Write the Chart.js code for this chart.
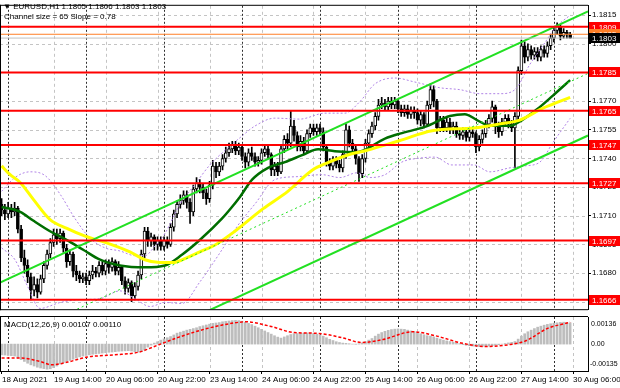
<!DOCTYPE html>
<html><head><meta charset="utf-8">
<script src="https://cdn.jsdelivr.net/npm/chart.js@4.4.1/dist/chart.umd.min.js"></script>
<style>
html,body{margin:0;padding:0;background:#fff;width:620px;height:388px;overflow:hidden}
canvas{display:block;position:absolute;left:0}
#c1{top:0}#c2{top:315px}
</style></head><body>
<canvas id="c1" width="620" height="315"></canvas>
<canvas id="c2" width="620" height="73"></canvas>
<script>
const symbolTitle = '\u25BC EURUSD,H1 1.1805 1.1806 1.1803 1.1803';
const channelTitle = 'Channel size = 65 Slope = 0.78';
const macdTitle = 'MACD(12,26,9) 0.00107 0.00110';

const opens = [1.1716,1.1713,1.1711,1.1714,1.1712,1.1714,1.1703,1.1688,
1.1684,1.1678,1.1671,1.1674,1.1670,1.1677,1.1684,1.1690,
1.1696,1.1700,1.1698,1.1701,1.1693,1.1686,1.1690,1.1681,
1.1679,1.1677,1.1678,1.1676,1.1679,1.1681,1.1680,1.1684,
1.1681,1.1685,1.1683,1.1686,1.1681,1.1683,1.1676,1.1672,
1.1675,1.1668,1.1673,1.1679,1.1690,1.1702,1.1697,1.1699,
1.1695,1.1697,1.1694,1.1697,1.1695,1.1704,1.1711,1.1716,
1.1718,1.1721,1.1717,1.1712,1.1724,1.1727,1.1725,1.1722,
1.1719,1.1726,1.1736,1.1733,1.1736,1.1740,1.1743,1.1745,
1.1747,1.1744,1.1746,1.1741,1.1738,1.1743,1.1741,1.1738,
1.1739,1.1743,1.1745,1.1742,1.1734,1.1736,1.1733,1.1745,
1.1750,1.1748,1.1757,1.1752,1.1746,1.1749,1.1744,1.1753,
1.1756,1.1754,1.1756,1.1754,1.1746,1.1738,1.1736,1.1739,
1.1737,1.1735,1.1742,1.1755,1.1748,1.1745,1.1740,1.1732,
1.1740,1.1748,1.1753,1.1757,1.1762,1.1768,1.1769,1.1767,
1.1770,1.1768,1.1770,1.1766,1.1764,1.1766,1.1763,1.1765,
1.1764,1.1760,1.1763,1.1758,1.1768,1.1776,1.1770,1.1756,
1.1760,1.1756,1.1759,1.1755,1.1757,1.1753,1.1752,1.1754,
1.1751,1.1754,1.1753,1.1746,1.1750,1.1753,1.1758,1.1761,
1.1767,1.1757,1.1754,1.1759,1.1761,1.1758,1.1756,1.1762,
1.1786,1.1799,1.1793,1.1797,1.1794,1.1796,1.1793,1.1797,
1.1795,1.1799,1.1803,1.1807,1.1809,1.1804,1.1806,1.1805];

const highs = [1.1719,1.1716,1.1717,1.1716,1.1717,1.1715,1.1705,1.1692,
1.1687,1.1680,1.1678,1.1677,1.1679,1.1686,1.1692,1.1698,
1.1703,1.1703,1.1703,1.1702,1.1695,1.1692,1.1691,1.1684,
1.1681,1.1680,1.1680,1.1681,1.1684,1.1683,1.1686,1.1686,
1.1687,1.1687,1.1688,1.1687,1.1686,1.1684,1.1678,1.1677,
1.1676,1.1675,1.1681,1.1692,1.1704,1.1704,1.1701,1.1700,
1.1699,1.1699,1.1699,1.1699,1.1706,1.1713,1.1718,1.1721,
1.1723,1.1723,1.1719,1.1726,1.1730,1.1729,1.1727,1.1724,
1.1728,1.1739,1.1738,1.1738,1.1742,1.1746,1.1748,1.1749,
1.1749,1.1748,1.1747,1.1743,1.1745,1.1746,1.1743,1.1741,
1.1745,1.1747,1.1747,1.1743,1.1738,1.1738,1.1747,1.1752,
1.1753,1.1765,1.1760,1.1754,1.1752,1.1751,1.1755,1.1758,
1.1758,1.1758,1.1758,1.1756,1.1747,1.1740,1.1741,1.1741,
1.1739,1.1744,1.1758,1.1757,1.1750,1.1747,1.1741,1.1742,
1.1750,1.1755,1.1759,1.1764,1.1771,1.1772,1.1771,1.1772,
1.1772,1.1772,1.1771,1.1768,1.1768,1.1768,1.1767,1.1767,
1.1766,1.1765,1.1764,1.1770,1.1779,1.1778,1.1771,1.1762,
1.1762,1.1761,1.1761,1.1759,1.1759,1.1755,1.1756,1.1756,
1.1756,1.1756,1.1754,1.1752,1.1755,1.1760,1.1763,1.1770,
1.1768,1.1759,1.1761,1.1763,1.1763,1.1760,1.1764,1.1788,
1.1802,1.1801,1.1800,1.1799,1.1798,1.1798,1.1799,1.1799,
1.1801,1.1805,1.1809,1.1811,1.1810,1.1808,1.1807,1.1806];

const lows = [1.1710,1.1708,1.1709,1.1709,1.1710,1.1701,1.1686,1.1680,
1.1675,1.1666,1.1668,1.1667,1.1669,1.1675,1.1682,1.1688,
1.1694,1.1695,1.1696,1.1691,1.1683,1.1684,1.1678,1.1676,
1.1675,1.1675,1.1674,1.1674,1.1677,1.1678,1.1678,1.1679,
1.1679,1.1680,1.1681,1.1679,1.1679,1.1674,1.1669,1.1670,
1.1665,1.1666,1.1671,1.1677,1.1688,1.1694,1.1694,1.1692,
1.1692,1.1692,1.1692,1.1693,1.1694,1.1702,1.1709,1.1714,
1.1716,1.1714,1.1706,1.1710,1.1722,1.1722,1.1719,1.1716,
1.1717,1.1724,1.1730,1.1731,1.1734,1.1738,1.1741,1.1743,
1.1742,1.1742,1.1739,1.1735,1.1736,1.1739,1.1736,1.1736,
1.1737,1.1741,1.1740,1.1731,1.1731,1.1731,1.1732,1.1743,
1.1745,1.1746,1.1749,1.1744,1.1744,1.1742,1.1743,1.1751,
1.1752,1.1752,1.1752,1.1744,1.1736,1.1734,1.1734,1.1735,
1.1733,1.1733,1.1740,1.1746,1.1742,1.1737,1.1728,1.1730,
1.1738,1.1746,1.1751,1.1755,1.1760,1.1766,1.1765,1.1765,
1.1766,1.1766,1.1764,1.1762,1.1762,1.1761,1.1761,1.1761,
1.1758,1.1757,1.1756,1.1757,1.1766,1.1767,1.1753,1.1754,
1.1754,1.1754,1.1753,1.1753,1.1751,1.1750,1.1750,1.1749,
1.1749,1.1751,1.1743,1.1744,1.1748,1.1751,1.1756,1.1759,
1.1753,1.1751,1.1752,1.1757,1.1756,1.1754,1.1735,1.1760,
1.1784,1.1790,1.1791,1.1792,1.1792,1.1791,1.1791,1.1793,
1.1793,1.1797,1.1801,1.1805,1.1802,1.1803,1.1803,1.1803];

const closes = [1.1713,1.1711,1.1714,1.1712,1.1714,1.1703,1.1688,1.1684,
1.1678,1.1671,1.1674,1.1670,1.1677,1.1684,1.1690,1.1696,
1.1700,1.1698,1.1701,1.1693,1.1686,1.1690,1.1681,1.1679,
1.1677,1.1678,1.1676,1.1679,1.1681,1.1680,1.1684,1.1681,
1.1685,1.1683,1.1686,1.1681,1.1683,1.1676,1.1672,1.1675,
1.1668,1.1673,1.1679,1.1690,1.1702,1.1697,1.1699,1.1695,
1.1697,1.1694,1.1697,1.1695,1.1704,1.1711,1.1716,1.1718,
1.1721,1.1717,1.1712,1.1724,1.1727,1.1725,1.1722,1.1719,
1.1726,1.1736,1.1733,1.1736,1.1740,1.1743,1.1745,1.1747,
1.1744,1.1746,1.1741,1.1738,1.1743,1.1741,1.1738,1.1739,
1.1743,1.1745,1.1742,1.1734,1.1736,1.1733,1.1745,1.1750,
1.1748,1.1757,1.1752,1.1746,1.1749,1.1744,1.1753,1.1756,
1.1754,1.1756,1.1754,1.1746,1.1738,1.1736,1.1739,1.1737,
1.1735,1.1742,1.1755,1.1748,1.1745,1.1740,1.1732,1.1740,
1.1748,1.1753,1.1757,1.1762,1.1768,1.1769,1.1767,1.1770,
1.1768,1.1770,1.1766,1.1764,1.1766,1.1763,1.1765,1.1764,
1.1760,1.1763,1.1758,1.1768,1.1776,1.1770,1.1756,1.1760,
1.1756,1.1759,1.1755,1.1757,1.1753,1.1752,1.1754,1.1751,
1.1754,1.1753,1.1746,1.1750,1.1753,1.1758,1.1761,1.1767,
1.1757,1.1754,1.1759,1.1761,1.1758,1.1756,1.1762,1.1786,
1.1799,1.1793,1.1797,1.1794,1.1796,1.1793,1.1797,1.1795,
1.1799,1.1803,1.1807,1.1809,1.1804,1.1806,1.1805,1.1803];

const macdHist = [-0.00054,-0.00055,-0.00057,-0.00058,-0.00060,
-0.00070,-0.00078,-0.00087,
-0.00096,-0.00104,-0.00110,-0.00116,
-0.00120,-0.00123,-0.00126,-0.00124,
-0.00118,-0.00110,-0.00100,
-0.00093,-0.00087,-0.00082,-0.00076,-0.00070,-0.00064,
-0.00060,-0.00057,-0.00054,-0.00051,-0.00049,-0.00047,-0.00045,
-0.00043,-0.00041,-0.00040,-0.00038,-0.00036,-0.00035,-0.00034,-0.00033,-0.00035,
-0.00038,-0.00040,-0.00038,-0.00030,
-0.00015,-0.00005,0.00005,0.00012,
0.00020,0.00026,0.00032,0.00038,0.00046,
0.00055,0.00060,0.00065,0.00070,0.00074,0.00078,0.00082,
0.00088,0.00092,0.00096,0.00100,0.00104,0.00106,0.00108,
0.00112,0.00114,0.00116,0.00118,0.00119,0.00118,0.00115,0.00110,
0.00104,0.00098,0.00090,0.00082,0.00074,0.00066,0.00058,
0.00050,0.00042,0.00035,0.00030,0.00036,
0.00042,0.00048,0.00052,0.00053,0.00054,0.00055,0.00056,
0.00055,0.00053,0.00050,0.00046,0.00040,0.00032,
0.00024,0.00018,0.00012,0.00008,0.00005,0.00004,
0.00002,0.00000,-0.00001,0.00002,
0.00006,0.00012,0.00020,0.00028,
0.00040,0.00050,0.00058,0.00064,0.00069,0.00073,
0.00075,0.00076,0.00075,0.00074,
0.00070,0.00066,0.00062,0.00057,0.00052,0.00047,0.00042,
0.00040,0.00036,0.00030,0.00025,0.00020,0.00016,0.00013,0.00010,
0.00006,0.00002,-0.00003,-0.00006,-0.00008,
-0.00010,-0.00011,-0.00012,-0.00011,-0.00010,-0.00010,-0.00008,-0.00006,-0.00003,
0.00000,0.00003,0.00006,0.00009,0.00013,
0.00025,0.00040,0.00052,0.00062,0.00070,
0.00078,0.00085,0.00090,0.00095,0.00099,
0.00102,0.00105,0.00107,0.00109,0.00110,0.00108,0.00107];

const macdSignal = [[0,-0.00070],[5.7,-0.00070],[11.8,-0.00087],[15.5,-0.00104],[20.4,-0.00090],[26.3,-0.00065],[34.9,-0.00054],[42.3,-0.00040],[48.4,-0.00003],[54.6,0.00035],[63.2,0.00078],[71.5,0.00106],[75.2,0.00112],[82.6,0.00090],[90,0.00058],[97.4,0.00054],[104.8,0.00032],[110.9,0.00008],[117.1,0.00022],[126.6,0.00062],[134,0.00040],[141.4,0.00006],[148.8,-0.00012],[156.2,-0.00003],[161.1,0.00015],[168.2,0.00080],[173.1,0.00102],[175,0.00110]];

const maSlow = [[0,1.17361],[2.6,1.17315],[5.7,1.17274],[9.7,1.17187],[14.9,1.17080],[20.1,1.17034],[25.7,1.16993],[33.4,1.16952],[39.5,1.16911],[44.1,1.16870],[48.7,1.16855],[52.7,1.16855],[57.1,1.16881],[61,1.16911],[65.7,1.16947],[71.8,1.17019],[80.4,1.17136],[88.1,1.17228],[95.8,1.17341],[100.1,1.17376],[106.3,1.17417],[112.5,1.17443],[122.6,1.17494],[132.5,1.17545],[145.4,1.17560],[153.4,1.17581],[159.5,1.17601],[166.6,1.17663],[175,1.17720]];

const maFast = [[0,1.17146],[5.7,1.17121],[9.7,1.17075],[14.9,1.17019],[20.1,1.16973],[25.1,1.16922],[30.3,1.16870],[36.4,1.16840],[44.1,1.16830],[50.3,1.16840],[55.5,1.16896],[61,1.16973],[67.8,1.17085],[70.9,1.17146],[73.4,1.17200],[77.1,1.17289],[82,1.17351],[87.2,1.17381],[92.5,1.17417],[97.4,1.17448],[102.6,1.17438],[109.4,1.17433],[118,1.17504],[122.6,1.17530],[130.3,1.17565],[138,1.17622],[142.6,1.17632],[146.3,1.17601],[150.3,1.17571],[156.5,1.17571],[160.2,1.17601],[164.8,1.17657],[169.7,1.17729],[175,1.17810]];

const bandUpper = [[0,1.17228],[4.1,1.17300],[8.7,1.17330],[13.4,1.17310],[18,1.17213],[22.6,1.17085],[27.2,1.16983],[31.8,1.16932],[36.4,1.16916],[41.1,1.16891],[44.1,1.16891],[47.2,1.16942],[50.3,1.17008],[54.9,1.17162],[59.5,1.17264],[64.1,1.17366],[68.8,1.17443],[73.4,1.17509],[78,1.17570],[84.1,1.17611],[91.8,1.17606],[99.5,1.17637],[105.7,1.17637],[110.3,1.17698],[114.9,1.17790],[121.1,1.17821],[127.2,1.17800],[134.9,1.17770],[141.1,1.17760],[147.2,1.17739],[153.4,1.17739],[158,1.17760],[162.6,1.17892],[167.2,1.18005],[170.3,1.18082],[175,1.18150]];

const bandLower = [[0,1.16932],[4.1,1.16870],[8.1,1.16727],[11.8,1.16615],[18,1.16646],[24.1,1.16661],[30.3,1.16666],[36.4,1.16707],[41.1,1.16666],[45.7,1.16625],[50.3,1.16646],[55.5,1.16641],[61,1.16753],[67.2,1.16906],[72.7,1.17049],[78,1.17162],[84.1,1.17289],[91.2,1.17305],[98.6,1.17315],[104.1,1.17300],[109.4,1.17325],[113.4,1.17300],[118,1.17315],[123.2,1.17381],[128.8,1.17402],[133.4,1.17407],[138.6,1.17366],[145.4,1.17366],[150.3,1.17330],[156.5,1.17351],[161.1,1.17361],[165.7,1.17381],[169.7,1.17483],[175,1.17610]];

const channelUpper = [[-0.5,1.1675],[180.5,1.1817]];
const channelMid = [[-0.5,1.16425],[180.5,1.17845]];
const channelLower = [[-0.5,1.1610],[180.5,1.1752]];

const redLevels = [1.1809,1.1785,1.1765,1.1747,1.1727,1.1697,1.1666];
const askLevel = 1.1805;
const bidLevel = 1.1803;

const priceTicks = [1.1665,1.1680,1.1695,1.1710,1.1725,1.1740,1.1755,1.1770,1.1785,1.1800,1.1815];
const timeTickIdx = [0,16,32,48,64,80,96,112,128,144,160,176];
const timeTickLabels = ['18 Aug 2021','19 Aug 14:00','20 Aug 06:00','20 Aug 22:00','23 Aug 14:00','24 Aug 06:00','24 Aug 22:00','25 Aug 14:00','26 Aug 06:00','26 Aug 22:00','27 Aug 14:00','30 Aug 06:00'];
const daySepIdx = [2,26,50,74,98,122,146,170];
const macdLabels = ['0.00136','0.00','-0.00135'];
const macdRange = [-0.00135, 0.00136];
const priceRange = [1.16611, 1.18199];
const xRange = [-0.5, 180.5];

/* ---------- helpers ---------- */
const FAM = '"Liberation Sans", Arial, sans-serif';
const FONT = '8px ' + FAM;
const idx = opens.map((_, i) => i);
const pairs = a => a.map(([x, y]) => ({x, y}));
const flat = v => [{x: xRange[0], y: v}, {x: xRange[1], y: v}];
const lineDs = (data, color, width, extra) => Object.assign({
  type: 'line', data, borderColor: color, borderWidth: width,
  pointRadius: 0, pointHoverRadius: 0, fill: false, tension: 0
}, extra || {});

function vline(ctx, x, y1, y2) { ctx.beginPath(); ctx.moveTo(x, y1); ctx.lineTo(x, y2); ctx.stroke(); }
function hline(ctx, y, x1, x2) { ctx.beginPath(); ctx.moveTo(x1, y); ctx.lineTo(x2, y); ctx.stroke(); }

function drawGrid(chart, withH) {
  const {ctx, chartArea: a, scales} = chart;
  ctx.save();
  ctx.beginPath(); ctx.rect(a.left, a.top, a.right - a.left, a.bottom - a.top); ctx.clip();
  ctx.lineWidth = 1;
  ctx.setLineDash([3, 3]);
  ctx.strokeStyle = '#c4c4c4';
  if (withH) priceTicks.forEach(v => hline(ctx, Math.round(scales.y.getPixelForValue(v)) + 0.5, a.left, a.right));
  timeTickIdx.slice(1).forEach(i => vline(ctx, Math.round(scales.x.getPixelForValue(i)) + 0.5, a.top, a.bottom));
  ctx.strokeStyle = '#303030';
  ctx.setLineDash([2, 2]);
  daySepIdx.forEach(i => vline(ctx, Math.round(scales.x.getPixelForValue(i)) + 0.5, a.top, a.bottom));
  ctx.restore();
}
function drawFrame(chart) {
  const {ctx, chartArea: a} = chart;
  ctx.save();
  ctx.strokeStyle = '#000'; ctx.lineWidth = 1; ctx.setLineDash([]);
  vline(ctx, a.left + 0.5, a.top - 1, a.bottom + 1);
  hline(ctx, a.top - 0.5, a.left, a.right);
  hline(ctx, a.bottom + 0.5, a.left, a.right);
  ctx.restore();
}
function tag(chart, v, bg, fg) {
  const {ctx, chartArea: a, scales, width} = chart;
  const y = Math.round(scales.y.getPixelForValue(v));
  ctx.save();
  ctx.fillStyle = bg;
  ctx.fillRect(a.right + 1, y - 5, width - a.right - 1, 10);
  ctx.fillStyle = fg; ctx.font = FONT; ctx.textBaseline = 'middle'; ctx.textAlign = 'left';
  ctx.fillText(v.toFixed(4), a.right + 4, y + 0.5);
  ctx.restore();
}

const mainPlugin = {
  id: 'mainDecor',
  beforeDatasetsDraw(chart) { drawGrid(chart, true); },
  afterDraw(chart) {
    const {ctx} = chart;
    drawFrame(chart);
    redLevels.forEach(v => tag(chart, v, '#ff0000', '#fff'));
    tag(chart, askLevel, '#ff7f27', '#fff');
    tag(chart, bidLevel, '#000', '#fff');
    ctx.save();
    ctx.fillStyle = '#000'; ctx.font = FONT; ctx.textBaseline = 'middle'; ctx.textAlign = 'left';
    ctx.fillText(symbolTitle, 3, 7);
    ctx.fillText(channelTitle, 4, 17);
    ctx.restore();
  }
};

const macdPlugin = {
  id: 'macdDecor',
  beforeDatasetsDraw(chart) { drawGrid(chart, false); },
  afterDraw(chart) {
    const {ctx, chartArea: a, scales} = chart;
    drawFrame(chart);
    ctx.save();
    ctx.fillStyle = '#000'; ctx.font = FONT; ctx.textBaseline = 'middle'; ctx.textAlign = 'left';
    ctx.fillText(macdTitle, 4, a.top + 8);
    timeTickIdx.forEach((i, k) => {
      ctx.fillText(timeTickLabels[k], Math.round(scales.x.getPixelForValue(i)), a.bottom + 9);
    });
    ctx.font = '7px ' + FAM;
    const yTop = scales.y.getPixelForValue(macdRange[1]) + 7;
    const yZero = scales.y.getPixelForValue(0);
    const yBot = scales.y.getPixelForValue(macdRange[0]) - 7;
    ctx.fillText(macdLabels[0], a.right + 3, yTop);
    ctx.fillText(macdLabels[1], a.right + 3, yZero);
    ctx.fillText(macdLabels[2], a.right + 2, yBot);
    ctx.restore();
  }
};

/* ---------- main price chart ---------- */
new Chart(document.getElementById('c1'), {
  type: 'bar',
  data: {
    datasets: [
      ...redLevels.map(v => lineDs(flat(v), '#ff0000', 2, {order: 1})),
      lineDs(flat(askLevel), '#ff7f27', 1, {order: 1}),
      lineDs(flat(bidLevel), '#c0c0c0', 1, {order: 1}),
      lineDs(pairs(channelUpper), '#22e022', 2, {order: 2}),
      lineDs(pairs(channelLower), '#22e022', 2, {order: 2}),
      lineDs(pairs(channelMid), '#22e022', 1, {order: 2, borderDash: [2, 3]}),
      lineDs(pairs(maSlow), '#ffff00', 3, {order: 3, cubicInterpolationMode: 'monotone'}),
      lineDs(pairs(maFast), '#006e00', 2.5, {order: 3, cubicInterpolationMode: 'monotone'}),
      lineDs(pairs(bandUpper), '#b083e6', 1, {order: 4, borderDash: [2, 2], cubicInterpolationMode: 'monotone'}),
      lineDs(pairs(bandLower), '#b083e6', 1, {order: 4, borderDash: [2, 2], cubicInterpolationMode: 'monotone'}),
      {type: 'bar', data: idx.map(i => ({x: i, y: [lows[i], highs[i]]})),
       backgroundColor: '#000', barThickness: 1, grouped: false, order: 6},
      {type: 'bar', data: idx.map(i => ({x: i, y: [opens[i], closes[i]]})),
       backgroundColor: idx.map(i => closes[i] >= opens[i] ? '#ffffff' : '#000000'),
       borderColor: '#000', borderWidth: 1, borderSkipped: false, barThickness: 3, grouped: false, order: 5}
    ]
  },
  options: {
    responsive: false, animation: false, devicePixelRatio: 1,
    layout: {padding: {top: 2, bottom: 2, left: 0, right: 0}},
    plugins: {legend: {display: false}, tooltip: {enabled: false}},
    events: [],
    scales: {
      x: {type: 'linear', min: xRange[0], max: xRange[1], offset: false, display: false},
      y: {
        type: 'linear', position: 'right', min: priceRange[0], max: priceRange[1],
        afterBuildTicks: s => { s.ticks = priceTicks.map(v => ({value: v})); },
        afterFit: s => { s.width = 32; },
        ticks: {callback: v => Number(v).toFixed(4), font: {family: FAM, size: 8}, color: '#000', padding: 1, autoSkip: false},
        grid: {display: true, drawOnChartArea: false, drawTicks: true, tickLength: 3, color: '#000'},
        border: {display: true, color: '#000', width: 1}
      }
    }
  },
  plugins: [mainPlugin]
});

/* ---------- MACD chart ---------- */
new Chart(document.getElementById('c2'), {
  type: 'bar',
  data: {
    datasets: [
      lineDs(pairs(macdSignal), '#ff0000', 1.5, {order: 1, borderDash: [3, 2], cubicInterpolationMode: 'monotone'}),
      {type: 'bar', data: idx.map(i => ({x: i, y: macdHist[i]})),
       backgroundColor: '#bdbdbd', barThickness: 2, grouped: false, order: 2}
    ]
  },
  options: {
    responsive: false, animation: false, devicePixelRatio: 1,
    layout: {padding: {top: 2, bottom: 0, left: 0, right: 0}},
    plugins: {legend: {display: false}, tooltip: {enabled: false}},
    events: [],
    scales: {
      x: {
        type: 'linear', position: 'bottom', min: xRange[0], max: xRange[1], offset: false,
        afterBuildTicks: s => { s.ticks = timeTickIdx.map(v => ({value: v})); },
        afterFit: s => { s.height = 17; },
        ticks: {display: false},
        grid: {display: true, drawOnChartArea: false, drawTicks: true, tickLength: 3, color: '#000', offset: false},
        border: {display: true, color: '#000', width: 1}
      },
      y: {
        type: 'linear', position: 'right', min: macdRange[0], max: macdRange[1],
        afterFit: s => { s.width = 32; },
        ticks: {display: false},
        grid: {display: false},
        border: {display: true, color: '#000', width: 1}
      }
    }
  },
  plugins: [macdPlugin]
});
</script>
</body></html>
